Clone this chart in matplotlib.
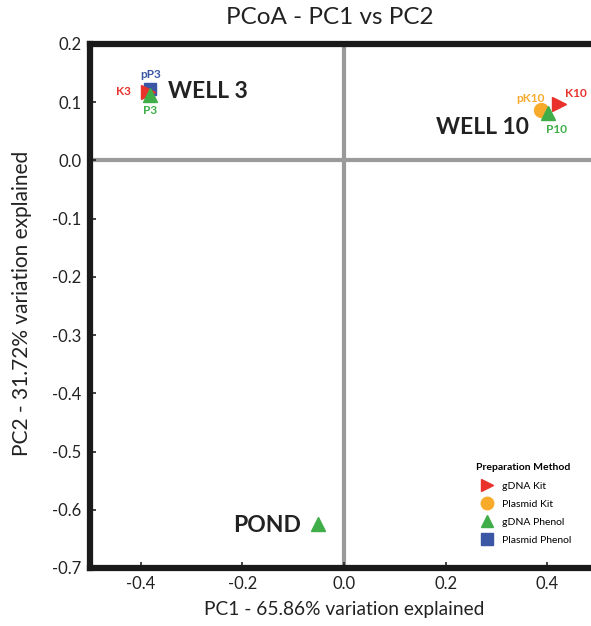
import matplotlib
matplotlib.use("Agg")
import matplotlib.pyplot as plt
from matplotlib.lines import Line2D

plt.rcParams['font.family'] = ['Lato', 'DejaVu Sans']

# Data
samples = ["K3", "pP3", "P3", "K10", "pK10", "P10", "POND"]
methods = ["gDNA Kit", "Plasmid Phenol", "gDNA Phenol", "gDNA Kit", "Plasmid Kit", "gDNA Phenol", "gDNA Phenol"]
pc1 = [-0.386, -0.381, -0.381, 0.423, 0.387, 0.401, -0.051]
pc2 = [0.118, 0.122, 0.113, 0.097, 0.087, 0.082, -0.625]
show_label = [True, True, True, True, True, True, False]

method_names = ["gDNA Kit", "Plasmid Kit", "gDNA Phenol", "Plasmid Phenol"]
method_colors = {"gDNA Kit": "#E8322B", "Plasmid Kit": "#F8AA2A",
                 "gDNA Phenol": "#3FAE49", "Plasmid Phenol": "#3B56A5"}
method_markers = {"gDNA Kit": ">", "Plasmid Kit": "o",
                  "gDNA Phenol": "^", "Plasmid Phenol": "s"}

groups = ["WELL 3", "WELL 10", "POND"]
group_pos = [(-0.347, 0.119), (0.365, 0.056), (-0.085, -0.627)]
group_ha = ["left", "right", "right"]

x_ticks = [-0.4, -0.2, 0.0, 0.2, 0.4]
y_ticks = [0.2, 0.1, 0.0, -0.1, -0.2, -0.3, -0.4, -0.5, -0.6, -0.7]

fig = plt.figure(figsize=(5.91, 6.26), dpi=100)
ax = fig.add_axes([90/591, 58/626, (598-90)/591, (582-58)/626])
ax.set_xlim(-0.5, 0.5)
ax.set_ylim(-0.7, 0.2)

ax.axvline(0, color="#9a9a9a", lw=3, zorder=1)
ax.axhline(0, color="#9a9a9a", lw=3, zorder=1)

for s in ax.spines.values():
    s.set_linewidth(4.5)
    s.set_color("#1a1a1a")

# draw points (order: K3 red first, then blue, then green on top)
draw_order = [1, 0, 2, 4, 3, 5, 6]
for i in draw_order:
    m = methods[i]
    ms = 10 if method_markers[m] != "s" else 8.5
    ax.plot(pc1[i], pc2[i], marker=method_markers[m], color=method_colors[m],
            markersize=ms, linestyle="none", zorder=3)

# small sample labels
label_offsets = {"K3": (-0.033, 0.0, "right", "center"),
                 "pP3": (0.0, 0.026, "center", "center"),
                 "P3": (0.0, -0.028, "center", "center"),
                 "K10": (0.013, 0.018, "left", "center"),
                 "pK10": (-0.02, 0.02, "center", "center"),
                 "P10": (0.018, -0.028, "center", "center")}
for i, name in enumerate(samples):
    if not show_label[i]:
        continue
    dx, dy, ha, va = label_offsets[name]
    ax.text(pc1[i] + dx, pc2[i] + dy, name, color=method_colors[methods[i]],
            fontsize=8.5, fontweight="bold", ha=ha, va=va, zorder=4)

for g, (gx, gy), ha in zip(groups, group_pos, group_ha):
    ax.text(gx, gy, g, fontsize=16.5, fontweight="bold", color="#222222",
            ha=ha, va="center", zorder=4)

ax.set_xticks(x_ticks)
ax.set_xticklabels([f"{v:.1f}" for v in x_ticks])
ax.set_yticks(y_ticks)
ax.set_yticklabels([f"{v:.1f}" for v in y_ticks])
ax.tick_params(axis="both", labelsize=12, length=4, width=1.2,
               direction="in", colors="#222222", pad=6)

fig.text(330/591, 1 - 18/626, "PCoA - PC1 vs PC2", ha="center", va="center",
         fontsize=17.5, color="#222222")
fig.text(344/591, 1 - 610/626, "PC1 - 65.86% variation explained", ha="center",
         va="center", fontsize=13.8, color="#222222")
fig.text(22/591, 1 - 303/626, "PC2 - 31.72% variation explained", ha="center",
         va="center", rotation=90, fontsize=15, color="#222222")

handles = [Line2D([], [], marker=method_markers[m], color=method_colors[m],
                  linestyle="none", markersize=9 if m != "Plasmid Phenol" else 8)
           for m in method_names]
leg = ax.legend(handles, method_names, title="Preparation Method",
                loc="lower left", bbox_to_anchor=(0.746, 0.03),
                frameon=False, fontsize=7.5, title_fontsize=7.5,
                handletextpad=0.45, labelspacing=0.85, borderpad=0.2)
leg.get_title().set_fontweight("bold")
leg._legend_box.align = "left"

fig.savefig("out.png", dpi=100)
